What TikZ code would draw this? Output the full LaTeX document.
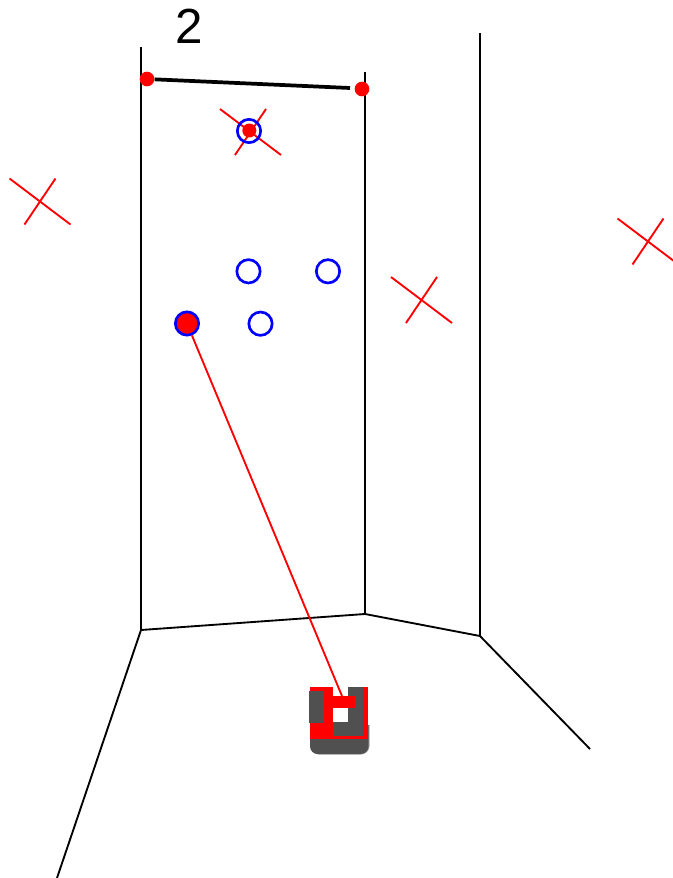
\documentclass[tikz,border=0pt]{standalone}
\usepackage{fontspec}
\setmainfont{Liberation Sans}
\definecolor{robogray}{HTML}{505050}
\begin{document}
\begin{tikzpicture}[x=0.75pt,y=-0.75pt,
  wall/.style={black,line width=1.4pt},
  thick wall/.style={black,line width=2.8pt},
  cross/.style={red,line width=1.4pt},
  ring/.style={circle,draw=blue,line width=2pt,minimum size=17.5pt,inner sep=0pt},
  reddot/.style={circle,fill=red,inner sep=0pt,minimum size=11.5pt},
  smalldot/.style={circle,fill=red,inner sep=0pt,minimum size=11pt},
  ray/.style={red,line width=1.4pt},
  lbl/.style={inner sep=0pt,font=\fontsize{37}{42}\selectfont}]
\useasboundingbox (0,0) rectangle (673,878);
% wall corners
\coordinate (wA) at (141,47);
\coordinate (wB) at (141,630);
\coordinate (wC) at (365,72);
\coordinate (wD) at (365,614);
\coordinate (wE) at (480,33);
\coordinate (wF) at (480,636);
\coordinate (wG) at (57,878);
\coordinate (wH) at (590,749);
\draw[wall] (wA) -- (wB) -- (wD) -- (wC);
\draw[wall] (wD) -- (wF) -- (wE);
\draw[wall] (wG) -- (wB);
\draw[wall] (wF) -- (wH);
% measured segment
\node[smalldot] (pA) at (147,79) {};
\node[smalldot] (pB) at (362,89) {};
\coordinate (pBend) at (350,88);
\draw[thick wall] (pA) -- (pBend);
\node[lbl] (num) at (189.5,26) {2};
% crosses
\foreach \n/\cx/\cy in {a/250.5/132,b/40/201.5,c/421.5/300,d/648/241.5}{
  \coordinate (\n1) at (\cx-30.5,\cy-23);
  \coordinate (\n2) at (\cx+30.5,\cy+23);
  \coordinate (\n3) at (\cx+15.5,\cy-23);
  \coordinate (\n4) at (\cx-15.5,\cy+23);
  \draw[cross] (\n1) -- (\n2);
  \draw[cross] (\n3) -- (\n4);
}
% rings
\node[ring] (r1) at (249,131) {};
\node[ring] (r2) at (248.5,271.3) {};
\node[ring] (r3) at (328,271.3) {};
\node[ring] (r4) at (260.5,323.7) {};
\node[ring,fill=red] (r5) at (187,323.5) {};
\node[circle,fill=red,inner sep=0pt,minimum size=10.5pt] (d1) at (249.3,130.5) {};
% robot
\fill[gray!70] (310,725) -- (369.5,725) -- (369.5,746) arc (0:90:8.5) -- (318.5,754.5) arc (90:180:8.5) -- cycle;
\fill[robogray,rounded corners=0pt] (310,725) -- (368.7,725) -- (368.7,746) arc (0:90:8) -- (318,754) arc (90:180:8) -- cycle;
\fill[red] (310,686.7) rectangle (367.7,739);
\fill[white] (333.3,686) rectangle (348.3,696);
\fill[white] (333.3,707.7) rectangle (348.3,721.7);
\fill[robogray] (348.3,686.7) rectangle (363.3,735.7);
\fill[robogray] (333.3,721.7) rectangle (363.3,735.7);
\fill[red] (333.3,696) rectangle (355,707.7);
\fill[robogray] (309,691) rectangle (324.3,723.3);
\coordinate (rbt) at (342,696);
\draw[ray] (r5) -- (rbt);
\end{tikzpicture}
\end{document}
